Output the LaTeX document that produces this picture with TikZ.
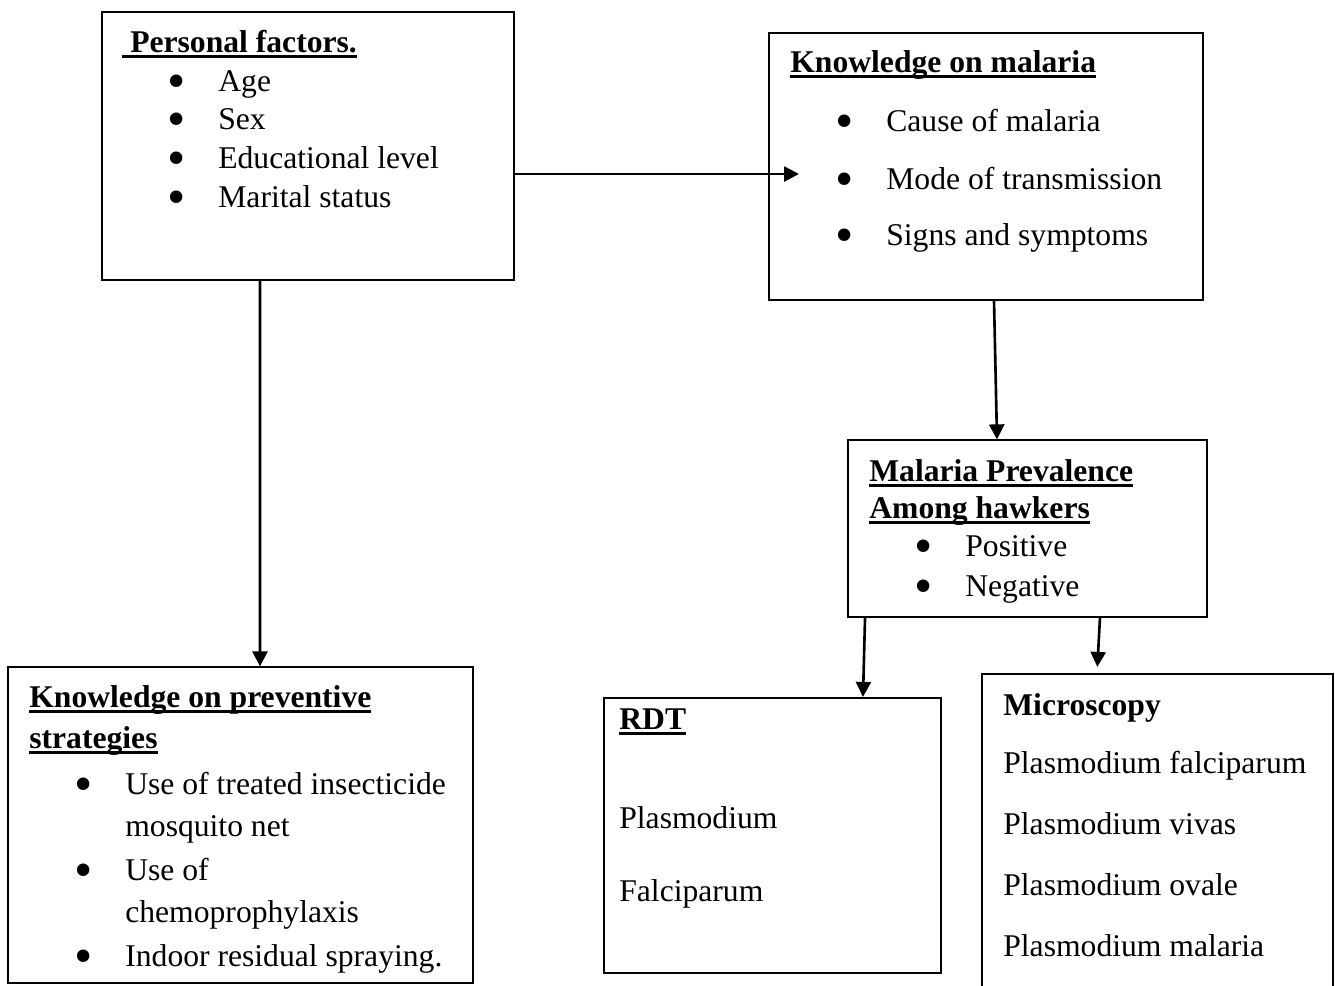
\documentclass[tikz,border=0pt]{standalone}
\usepackage{fontspec}
\setmainfont{Liberation Serif}
\usepackage{tikz}
\usetikzlibrary{arrows.meta}

\newsavebox{\headbox}
\newcommand{\ulhead}[1]{\sbox\headbox{\bfseries #1}\rlap{\rule[-0.11cm]{\wd\headbox}{0.05cm}}\usebox\headbox}
\newcommand{\bul}{\llap{\smash{\raisebox{-0.14cm}{\scalebox{1.65}{\textbullet}}}\hspace{0.65cm}}}

\begin{document}
\begin{tikzpicture}[x=0.02cm,y=-0.02cm,
    box/.style={draw,line width=0.75pt,inner sep=0pt},
    txt/.style={anchor=base west,inner sep=0pt,font=\fontsize{18}{22}\selectfont},
    arr/.style={-{Triangle[length=0.3cm,width=0.3cm]},line width=1.5pt}]
      \clip (0,0) rectangle (1335,985);
      \node[box,minimum width=8.24cm,minimum height=5.36cm] (pers) at (308,146) {};
      \node[box,minimum width=8.68cm,minimum height=5.34cm] (kmal) at (986,166.5) {};
      \node[box,minimum width=7.18cm,minimum height=3.54cm] (prev) at (1027.5,528.5) {};
      \node[box,minimum width=9.3cm,minimum height=6.32cm] (kprev) at (240.5,825) {};
      \node[box,line width=1.3pt,minimum width=6.74cm,minimum height=5.5cm] (rdt) at (772.5,835.5) {};
      \node[box,line width=1.3pt,minimum width=7.02cm,minimum height=6.52cm] (micro) at (1157.5,837) {};
      \coordinate (kmtip) at (799,174);
      % personal factors
      \node[txt] (perst) at (122,52) {\ulhead{\ Personal factors.}};
      \node[txt] (pers1) at (218,91) {\bul Age};
      \node[txt] (pers2) at (218,129) {\bul Sex};
      \node[txt] (pers3) at (218,168) {\bul Educational level};
      \node[txt] (pers4) at (218,207) {\bul Marital status};
      % knowledge on malaria
      \node[txt] (kmalt) at (790,72) {\ulhead{Knowledge on malaria}};
      \node[txt] (kmal1) at (886,131) {\bul Cause of malaria};
      \node[txt] (kmal2) at (886,189) {\bul Mode of transmission};
      \node[txt] (kmal3) at (886,245) {\bul Signs and symptoms};
      % prevalence
      \node[txt] (prevt1) at (869,481) {\ulhead{Malaria Prevalence}};
      \node[txt] (prevt2) at (869,518) {\ulhead{Among hawkers}};
      \node[txt] (prev1) at (965,556) {\bul Positive};
      \node[txt] (prev2) at (965,596) {\bul Negative};
      % preventive strategies
      \node[txt] (kprevt1) at (29,707) {\ulhead{Knowledge on preventive}};
      \node[txt] (kprevt2) at (29,748) {\ulhead{strategies}};
      \node[txt] (kprev1) at (125,794) {\bul Use of treated insecticide};
      \node[txt] (kprev2) at (125,836) {mosquito net};
      \node[txt] (kprev3) at (125,880) {\bul Use of};
      \node[txt] (kprev4) at (125,922) {chemoprophylaxis};
      \node[txt] (kprev5) at (125,966) {\bul Indoor residual spraying.};
      % rdt
      \node[txt] (rdtt) at (619,729) {\ulhead{RDT}};
      \node[txt] (rdt1) at (619,828) {Plasmodium};
      \node[txt] (rdt2) at (619,901) {Falciparum};
      % microscopy
      \node[txt] (microt) at (1003,715) {\textbf{Microscopy}};
      \node[txt] (micro1) at (1003,773) {Plasmodium falciparum};
      \node[txt] (micro2) at (1003,834) {Plasmodium vivas};
      \node[txt] (micro3) at (1003,895) {Plasmodium ovale};
      \node[txt] (micro4) at (1003,956) {Plasmodium malaria};
      \draw[arr] (pers.east |- kmtip) -- (kmtip);
      \draw[arr] ([xshift=-0.96cm]pers.south) -- ([xshift=0.39cm]kprev.north);
      \draw[arr] ([xshift=0.16cm]kmal.south) -- ([xshift=-0.61cm]prev.north);
      \draw[arr] ([xshift=-3.25cm]prev.south) -- ([xshift=1.81cm]rdt.north);
      \draw[arr,shorten >=0.12cm] ([xshift=1.45cm]prev.south) -- ([xshift=-1.21cm]micro.north);
    \end{tikzpicture}
\end{document}
